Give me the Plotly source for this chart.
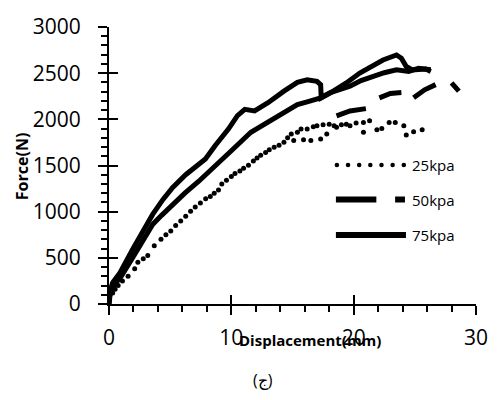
import plotly.graph_objects as go

# ---- data ----
x_75 = [0, 0.1, 0.3, 0.9, 1.96, 2.8, 3.57, 4.4, 5.19, 6.27, 7.1, 7.88, 8.7, 9.76, 10.5, 11.1, 11.9, 13.0,
        14.3, 15.4, 16.2, 17.0, 17.3, 17.35, 18.1, 19.4, 20.5, 21.9, 22.4, 23.5, 23.9, 24.3, 24.8, 25.9, 26.3]
y_75 = [0, 150, 230, 340, 600, 800, 970, 1130, 1260, 1400, 1490, 1570, 1720, 1895, 2040, 2108, 2091, 2180,
        2305, 2400, 2429, 2412, 2376, 2233, 2287, 2394, 2501, 2608, 2643, 2697, 2661, 2572, 2536, 2544, 2519]

x_50 = [0, 0.1, 0.4, 1.0, 1.96, 2.8, 3.57, 4.3, 5.2, 6.2, 7.34, 8.6, 10.0, 11.6, 12.7, 13.8, 15.4, 16.2,
        17.3, 18.1, 19.7, 20.6, 21.6, 22.5, 23.5, 24.5, 25.3, 26.3]
y_50 = [0, 120, 200, 300, 506, 690, 862, 960, 1080, 1200, 1330, 1480, 1660, 1860, 1950, 2038, 2160, 2190,
        2233, 2290, 2359, 2420, 2470, 2505, 2536, 2519, 2554, 2536]

# sparse tail of the 50kpa series (drawn as separate dashes)
x_50_tail = [18.6, 19.7, 21.0, None, 22.1, 23.0, 23.9, None, 24.9, 25.8, 26.7, None, 28.0, 28.6]
y_50_tail = [2038, 2091, 2116, None, 2233, 2280, 2290, None, 2233, 2320, 2376, None, 2394, 2305]

x_25 = [0.05, 0.3, 0.5, 0.75, 1.1, 1.56, 2.1, 2.36, 2.8, 3.17, 3.7, 4.25, 4.65, 5.05, 5.45, 5.86, 6.27,
        6.67, 7.05, 7.47, 7.9, 8.28, 8.6, 8.95, 9.22, 9.6, 10.0, 10.3, 10.7, 11.0, 11.4, 11.8, 12.1, 12.4,
        12.8, 13.1, 13.5, 13.9, 14.3, 14.6, 14.9, 15.1, 15.4, 15.7, 15.9, 16.2, 16.5, 16.7, 17.0, 17.3,
        17.5, 17.8, 18.0, 18.4, 18.6, 19.0, 19.4, 19.7, 20.2, 20.8, 20.8, 21.3, 21.9, 22.3, 22.9, 23.4,
        24.1, 24.3, 24.9, 25.6]
y_25 = [50, 120, 160, 200, 250, 300, 381, 452, 490, 524, 630, 702, 750, 791, 850, 898, 950,
        1005, 1050, 1093, 1140, 1165, 1200, 1236, 1300, 1340, 1380, 1414, 1440, 1470, 1503, 1550, 1580, 1610,
        1640, 1670, 1699, 1720, 1753, 1800, 1840, 1771, 1860, 1895, 1780, 1895, 1771, 1920, 1931, 1788,
        1940, 1841, 1948, 1931, 1913, 1940, 1948, 1931, 1960, 1966, 1860, 1984, 1888, 1900, 1966, 1966,
        1931, 1830, 1866, 1888]

series_names = ["25kpa", "50kpa", "75kpa"]
x_ticks = [0, 10, 20, 30]
y_ticks = [0, 500, 1000, 1500, 2000, 2500, 3000]

# ---- layout geometry ----
W, H = 500, 400
L, R, T, B = 109, 19, 23, 96
PW, PH = W - L - R, H - T - B


def px(x):
    return (x - L) / PW


def py(y):
    return (H - B - y) / PH


FONT = "Open Sans"
LW = 5

fig = go.Figure()
fig.add_trace(go.Scatter(x=x_25, y=y_25, mode="markers", name=series_names[0],
                         marker=dict(color="black", size=5), cliponaxis=False, showlegend=False))
fig.add_trace(go.Scatter(x=x_50, y=y_50, mode="lines", name=series_names[1],
                         line=dict(color="black", width=LW), cliponaxis=False, showlegend=False))
fig.add_trace(go.Scatter(x=x_50_tail, y=y_50_tail, mode="lines", name=series_names[1] + " tail",
                         line=dict(color="black", width=LW), cliponaxis=False, showlegend=False,
                         connectgaps=False))
fig.add_trace(go.Scatter(x=x_75, y=y_75, mode="lines", name=series_names[2],
                         line=dict(color="black", width=LW), cliponaxis=False, showlegend=False))
# dummy trace for overlay axes (inside halves of the crossing major ticks)
fig.add_trace(go.Scatter(x=[None], y=[None], xaxis="x2", yaxis="y2", showlegend=False, hoverinfo="skip"))

axis_common = dict(showgrid=False, zeroline=False, showline=True, linecolor="black", linewidth=2,
                   ticks="outside", ticklen=9, tickwidth=1.5, tickcolor="black",
                   tickfont=dict(family=FONT, size=21, color="black"))

fig.update_layout(
    width=W, height=H,
    margin=dict(l=L, r=R, t=T, b=B, pad=0),
    paper_bgcolor="white", plot_bgcolor="white",
    showlegend=False,
    xaxis=dict(range=[0, 30], tickvals=x_ticks, ticktext=[str(v) for v in x_ticks],
               minor=dict(dtick=2, ticks="outside", ticklen=6, tickwidth=1.5, tickcolor="black"),
               ticklabelstandoff=5, **axis_common),
    yaxis=dict(range=[0, 3000], tickvals=y_ticks, ticktext=[str(v) for v in y_ticks],
               minor=dict(dtick=100, ticks="outside", ticklen=6, tickwidth=1.5, tickcolor="black"),
               ticklabelstandoff=13, **axis_common),
    xaxis2=dict(range=[0, 30], overlaying="x", anchor="y2", tickvals=x_ticks, ticks="inside", ticklen=9,
                tickwidth=1.5, tickcolor="black", showticklabels=False, showline=False, showgrid=False,
                zeroline=False),
    yaxis2=dict(range=[0, 3000], overlaying="y", anchor="x2", side="left", tickvals=y_ticks, ticks="inside",
                ticklen=9, tickwidth=1.5, tickcolor="black", showticklabels=False, showline=False,
                showgrid=False, zeroline=False),
)

# ---- manual legend ----
shapes = []
row_y = [163, 198, 234]
# 25kpa: dotted sample
for i in range(7):
    cx = 340 + i * 11.3
    r = 2.3
    shapes.append(dict(type="circle", xref="paper", yref="paper",
                       x0=px(cx - r), x1=px(cx + r), y0=py(row_y[0] + r), y1=py(row_y[0] - r),
                       fillcolor="black", line=dict(width=0)))
# 50kpa: long dash + short dash
for a, b in [(339, 380), (399, 409)]:
    shapes.append(dict(type="line", xref="paper", yref="paper", x0=px(a), x1=px(b),
                       y0=py(row_y[1]), y1=py(row_y[1]), line=dict(color="black", width=6)))
# 75kpa: solid
shapes.append(dict(type="line", xref="paper", yref="paper", x0=px(339), x1=px(410),
                   y0=py(row_y[2]), y1=py(row_y[2]), line=dict(color="black", width=6)))

annotations = []
for name, yy in zip(series_names, row_y):
    annotations.append(dict(text=name, xref="paper", yref="paper", x=px(414), y=py(yy),
                            xanchor="left", yanchor="middle", showarrow=False,
                            font=dict(family=FONT, size=15, color="black")))

annotations.append(dict(text="<b>Force(N)</b>", xref="paper", yref="paper", x=px(21), y=py(165),
                        xanchor="center", yanchor="middle", textangle=-90, showarrow=False,
                        font=dict(family=FONT, size=16, color="black")))
annotations.append(dict(text="<b>Displacement(mm)</b>", xref="paper", yref="paper", x=px(313), y=py(341),
                        xanchor="center", yanchor="middle", showarrow=False,
                        font=dict(family=FONT, size=15, color="black")))
annotations.append(dict(text="(ج)", xref="paper", yref="paper", x=px(265), y=py(381),
                        xanchor="center", yanchor="middle", showarrow=False,
                        font=dict(family=FONT, size=16, color="black")))

fig.update_layout(shapes=shapes, annotations=annotations)

fig.write_html("out.html")
